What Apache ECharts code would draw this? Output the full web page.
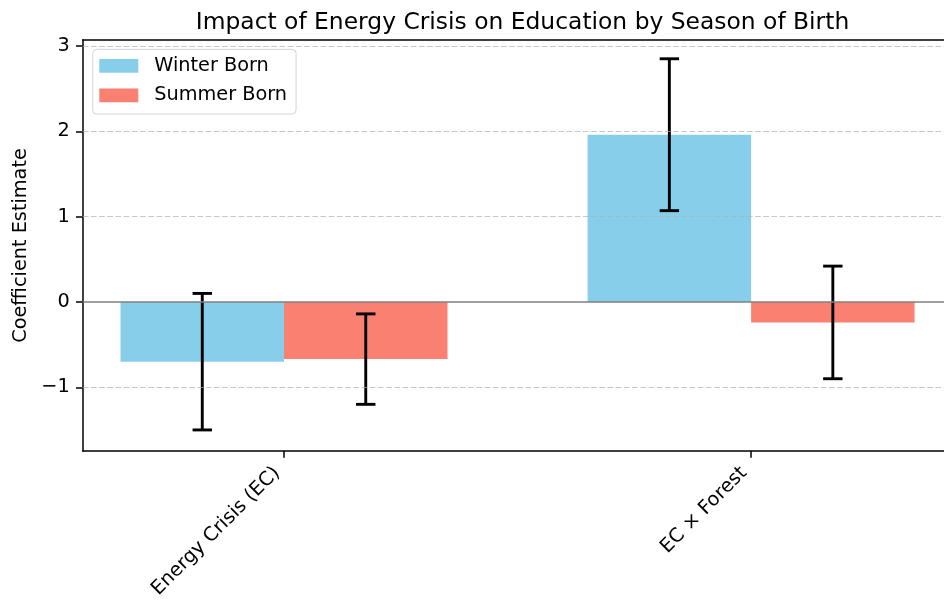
<!DOCTYPE html>
<html>
<head>
<meta charset="utf-8">
<script src="https://cdn.jsdelivr.net/npm/echarts@6/dist/echarts.min.js"></script>
<style>
  html, body { margin: 0; padding: 0; background: #fff; }
  #chart { width: 944px; height: 601px; }
</style>
</head>
<body>
<div id="chart"></div>
<script>
// Regression coefficients with standard errors, by season of birth
const categories = ['Energy Crisis (EC)', 'EC × Forest'];
const winterCoef = [-0.70, 1.96];
const winterErr = [0.80, 0.89];
const summerCoef = [-0.67, -0.24];
const summerErr = [0.53, 0.66];
const yTicks = [-1, 0, 1, 2, 3];
const gridValues = [-1, 1, 2, 3];

const FONT = 'DejaVu Sans';
const BAR_W = 0.35;
const X_MIN = -0.431, X_MAX = 1.413;
const Y_MIN = -1.747, Y_MAX = 3.07;
const COLORS = { winter: '#87CEEB', summer: '#FA8072' };

// bar centres sit half a bar width either side of each category position
const winterData = winterCoef.map((v, i) => [i - BAR_W / 2, v, winterErr[i]]);
const summerData = summerCoef.map((v, i) => [i + BAR_W / 2, v, summerErr[i]]);

function renderBar(params, api) {
  const x = api.value(0), v = api.value(1);
  const p0 = api.coord([x - BAR_W / 2, 0]);
  const p1 = api.coord([x + BAR_W / 2, v]);
  return {
    type: 'rect',
    shape: { x: p0[0], y: Math.min(p0[1], p1[1]), width: p1[0] - p0[0], height: Math.abs(p1[1] - p0[1]) },
    style: { fill: api.visual('color') }
  };
}

function renderErr(params, api) {
  const x = api.value(0), v = api.value(1), e = api.value(2);
  const top = api.coord([x, v + e]);
  const bot = api.coord([x, v - e]);
  const cap = 9.7;
  const st = { stroke: '#000', lineWidth: 2.9 };
  return {
    type: 'group',
    children: [
      { type: 'line', shape: { x1: top[0], y1: top[1], x2: bot[0], y2: bot[1] }, style: st },
      { type: 'line', shape: { x1: top[0] - cap, y1: top[1], x2: top[0] + cap, y2: top[1] }, style: st },
      { type: 'line', shape: { x1: bot[0] - cap, y1: bot[1], x2: bot[0] + cap, y2: bot[1] }, style: st }
    ]
  };
}

const fmtNum = v => (v < 0 ? '\u2212' + Math.abs(v) : String(v));

const chart = echarts.init(document.getElementById('chart'));
chart.setOption({
  animation: false,
  backgroundColor: '#fff',
  title: {
    text: 'Impact of Energy Crisis on Education by Season of Birth',
    left: 517.5,
    top: 6,
    textAlign: 'center',
    textStyle: { fontFamily: FONT, fontSize: 23.4, fontWeight: 'normal', color: '#000' }
  },
  legend: {
    data: ['Winter Born', 'Summer Born'],
    orient: 'vertical',
    left: 92.7,
    top: 49.3,
    icon: 'rect',
    itemWidth: 39,
    itemHeight: 13.7,
    itemGap: 9.4,
    padding: [6.6, 9, 8.7, 6.6],
    backgroundColor: 'rgba(255,255,255,0.8)',
    borderColor: '#d4d4d4',
    borderWidth: 1,
    borderRadius: 4,
    textStyle: { fontFamily: FONT, fontSize: 19.3, color: '#000', lineHeight: 20, padding: [0, 0, 0, 11] }
  },
  grid: { left: 82.7, top: 40, right: 0, height: 411.3, containLabel: false },
  xAxis: [
    {
      type: 'value',
      min: X_MIN,
      max: X_MAX,
      splitLine: { show: false },
      axisLine: { show: true, onZero: false, lineStyle: { color: '#000', width: 1.5 } },
      axisTick: { show: true, customValues: [0, 1], length: 6.7, lineStyle: { color: '#000', width: 1.5 } },
      axisLabel: {
        show: true,
        customValues: [0, 1],
        formatter: v => categories[Math.round(v)],
        rotate: 45,
        margin: 12,
        padding: [0, 10, 0, 0],
        fontFamily: FONT,
        fontSize: 19.3,
        color: '#000'
      }
    },
    {
      type: 'value',
      position: 'top',
      min: X_MIN,
      max: X_MAX,
      splitLine: { show: false },
      axisLine: { show: true, onZero: false, lineStyle: { color: '#000', width: 1.5 } },
      axisTick: { show: false },
      axisLabel: { show: false }
    }
  ],
  yAxis: [
    {
      type: 'value',
      min: Y_MIN,
      max: Y_MAX,
      name: 'Coefficient Estimate',
      nameLocation: 'middle',
      nameRotate: 90,
      nameGap: 52,
      nameTextStyle: { fontFamily: FONT, fontSize: 19.3, color: '#000' },
      splitLine: { show: false },
      axisLine: { show: true, onZero: false, lineStyle: { color: '#000', width: 1.5 } },
      axisTick: { show: true, customValues: yTicks, length: 6.7, lineStyle: { color: '#000', width: 1.5 } },
      axisLabel: {
        show: true,
        customValues: yTicks,
        formatter: fmtNum,
        margin: 13,
        fontFamily: FONT,
        fontSize: 19.3,
        color: '#000'
      }
    }
  ],
  series: [
    {
      name: 'Winter Born',
      type: 'custom',
      z: 1,
      itemStyle: { color: COLORS.winter },
      renderItem: renderBar,
      data: winterData,
      encode: { x: 0, y: 1 }
    },
    {
      name: 'Summer Born',
      type: 'custom',
      z: 1,
      itemStyle: { color: COLORS.summer },
      renderItem: renderBar,
      data: summerData,
      encode: { x: 0, y: 1 }
    },
    {
      // dashed horizontal grid and the solid zero reference line
      name: 'grid',
      type: 'line',
      z: 2,
      data: [],
      silent: true,
      markLine: {
        silent: true,
        symbol: 'none',
        label: { show: false },
        lineStyle: { color: 'rgba(176,176,176,0.7)', width: 1.2, type: [5.7, 2.5] },
        data: gridValues.map(v => ({ yAxis: v })).concat([
          { yAxis: 0, lineStyle: { color: '#808080', width: 1.5, type: 'solid' } }
        ])
      }
    },
    {
      name: 'err-winter',
      type: 'custom',
      z: 3,
      silent: true,
      renderItem: renderErr,
      data: winterData,
      encode: { x: 0, y: 1 }
    },
    {
      name: 'err-summer',
      type: 'custom',
      z: 3,
      silent: true,
      renderItem: renderErr,
      data: summerData,
      encode: { x: 0, y: 1 }
    }
  ]
});
</script>
</body>
</html>
